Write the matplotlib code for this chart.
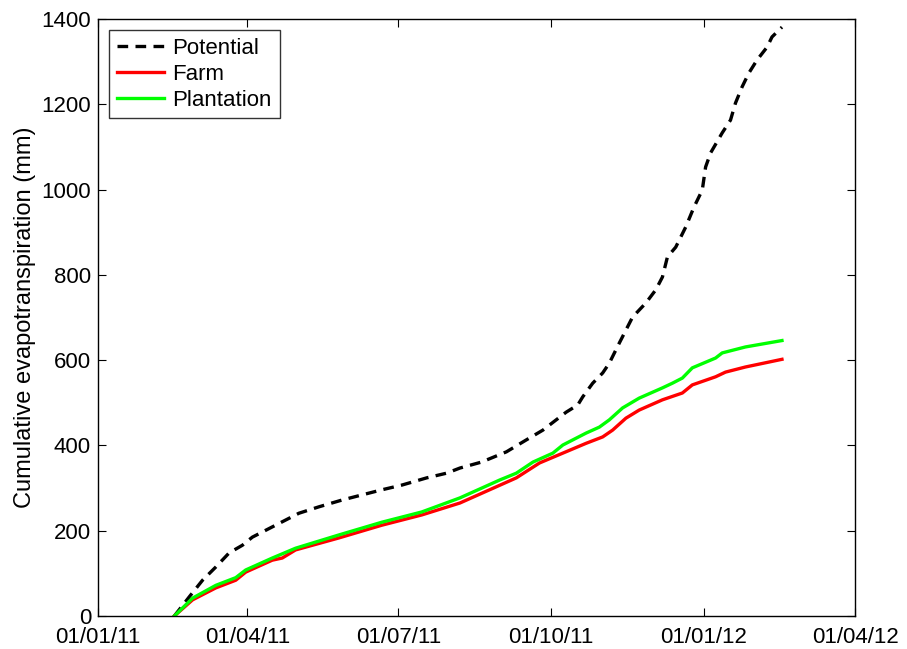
import numpy as np
import pandas as pd
import matplotlib
matplotlib.use("Agg")
import matplotlib.pyplot as plt
import matplotlib.dates as mdates

plt.rcParams['font.family'] = ['Liberation Sans', 'DejaVu Sans']

# potential evapotranspiration
pot_dates = ['2011-02-16', '2011-02-25', '2011-03-05', '2011-03-13', '2011-03-21', '2011-03-29',
             '2011-04-04', '2011-04-18', '2011-05-02', '2011-05-14', '2011-05-28', '2011-06-09',
             '2011-06-21', '2011-07-03', '2011-07-18', '2011-07-30', '2011-08-07', '2011-08-20',
             '2011-09-04', '2011-09-16', '2011-09-26', '2011-10-04', '2011-10-10', '2011-10-17',
             '2011-10-20', '2011-10-26', '2011-11-01', '2011-11-05', '2011-11-11', '2011-11-19',
             '2011-11-27', '2011-12-03', '2011-12-07', '2011-12-10', '2011-12-15', '2011-12-21',
             '2011-12-26', '2011-12-31', '2012-01-02', '2012-01-05', '2012-01-12', '2012-01-17',
             '2012-01-20', '2012-01-24', '2012-01-28', '2012-02-02', '2012-02-08', '2012-02-11',
             '2012-02-17']
potential = [0, 45, 84, 115, 148, 166,
             185, 213, 241, 256, 272, 284,
             296, 307, 324, 335, 347, 361,
             385, 413, 436, 460, 478, 495,
             514, 546, 570, 593, 640, 701,
             734, 765, 795, 842, 865, 912,
             959, 999, 1053, 1086, 1133, 1163,
             1203, 1241, 1273, 1304, 1334, 1358,
             1381]

# actual evapotranspiration, farm
farm_dates = ['2011-02-16', '2011-02-27', '2011-03-13', '2011-03-25', '2011-03-31', '2011-04-16',
              '2011-04-22', '2011-04-30', '2011-05-26', '2011-06-21', '2011-07-15', '2011-08-07',
              '2011-09-10', '2011-09-24', '2011-10-08', '2011-10-22', '2011-11-01', '2011-11-07',
              '2011-11-15', '2011-11-23', '2011-12-07', '2011-12-19', '2011-12-25', '2012-01-08',
              '2012-01-14', '2012-01-26', '2012-02-17']
farm = [0, 38, 66, 84, 103, 131,
        136, 155, 183, 213, 237, 265,
        324, 359, 382, 405, 420, 436,
        464, 483, 507, 523, 542, 561,
        572, 584, 602]

# actual evapotranspiration, plantation
plant_dates = ['2011-02-16', '2011-02-27', '2011-03-13', '2011-03-25', '2011-03-31', '2011-04-16',
               '2011-04-30', '2011-05-26', '2011-06-21', '2011-07-15', '2011-08-07', '2011-08-31',
               '2011-09-10', '2011-09-20', '2011-10-02', '2011-10-08', '2011-10-22', '2011-10-30',
               '2011-11-05', '2011-11-13', '2011-11-23', '2011-12-07', '2011-12-13', '2011-12-19',
               '2011-12-25', '2012-01-08', '2012-01-12', '2012-01-26', '2012-02-17']
plantation = [0, 42, 72, 90, 108, 136,
              159, 190, 220, 244, 277, 319,
              335, 361, 382, 401, 429, 443,
              460, 488, 511, 535, 546, 558,
              582, 605, 617, 631, 646]

fig = plt.figure(figsize=(9.07, 6.49), dpi=100)
ax = fig.add_axes([0.108, 0.0508, 0.8347, 0.9199])

ax.plot(pd.to_datetime(pot_dates), potential, color='k', lw=2.4,
        linestyle=(0, (3.2, 2.2)), label='Potential')
ax.plot(pd.to_datetime(farm_dates), farm, color='#ff0000', lw=2.4, label='Farm')
ax.plot(pd.to_datetime(plant_dates), plantation, color='#00ff00', lw=2.4, label='Plantation')

ax.set_xlim(pd.Timestamp('2011-01-01'), pd.Timestamp('2012-04-01'))
ax.set_ylim(0, 1400)
ticks = pd.to_datetime(['2011-01-01', '2011-04-01', '2011-07-01', '2011-10-01',
                        '2012-01-01', '2012-04-01'])
ax.set_xticks(ticks)
ax.xaxis.set_major_formatter(mdates.DateFormatter('%d/%m/%y'))
ax.set_yticks(np.arange(0, 1401, 200))
ax.tick_params(direction='in', top=True, right=True, length=6, labelsize=16)
ax.tick_params(axis='x', pad=8)
ax.tick_params(axis='y', pad=5)
ax.set_ylabel('Cumulative evapotranspiration (mm)', fontsize=17, labelpad=4)
for s in ax.spines.values():
    s.set_linewidth(1.0)

leg = ax.legend(loc='upper left', fontsize=16, frameon=True, fancybox=False,
                edgecolor='k', handlelength=2.1, borderaxespad=0.5,
                labelspacing=0.22, handletextpad=0.4, borderpad=0.35)
leg.get_frame().set_linewidth(1.0)

fig.savefig('out.png', dpi=100)
